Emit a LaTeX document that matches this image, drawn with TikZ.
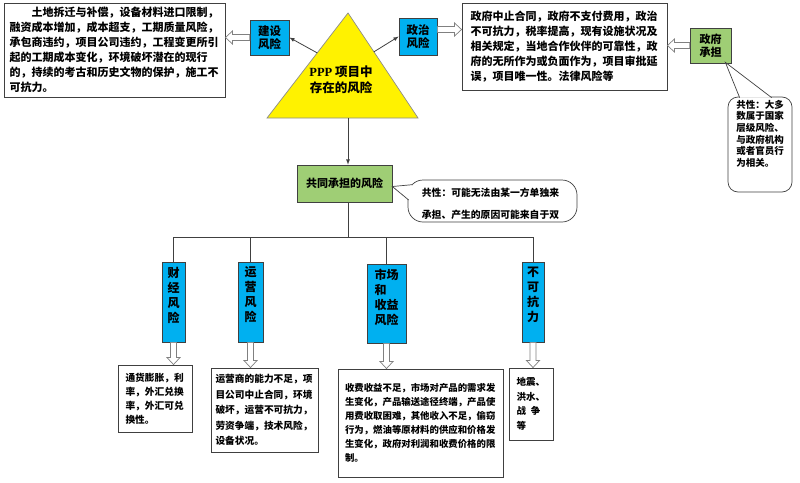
\documentclass[tikz,border=0pt]{standalone}
\usepackage{fontspec}
\setmainfont{Noto Sans CJK SC}
\newfontfamily\pppfont{Liberation Serif}
\usetikzlibrary{calc,positioning}

% hollow block arrow from #1 to #2
\newcommand{\hollowarrow}[2]{%
  \draw [hollowarr] ($#1!3pt!90:#2$) -- ($#2!7pt!#1!3pt!90:#2$) -- ($#2!7pt!#1!6.5pt!90:#2$) -- #2
    -- ($#2!7pt!#1!6.5pt!-90:#2$) -- ($#2!7pt!#1!3pt!-90:#2$) -- ($#1!3pt!-90:#2$) -- cycle;}

\begin{document}
\begin{tikzpicture}[x=1pt,y=-1pt,
  riskbox/.style={draw=boxline,line width=0.7pt,fill=riskblue,inner sep=0pt,align=center,
    font=\bfseries\fontsize{11.5}{13.5}\selectfont},
  sharebox/.style={draw=boxline,line width=0.7pt,fill=sharegreen,inner sep=0pt,align=center,
    font=\bfseries\fontsize{11}{13.5}\selectfont},
  cattext/.style={inner sep=0pt,align=center,font=\bfseries\fontsize{12}{15}\selectfont},
  detail/.style={draw=boxline,line width=0.9pt,fill=white,align=left,inner ysep=0pt},
  bubble/.style={draw=boxline,line width=0.7pt,fill=white,rounded corners=10pt},
  conn/.style={draw=linegray,line width=0.8pt},
  hollowarr/.style={draw=arrowgray,line width=0.7pt,fill=white}]
  \definecolor{riskblue}{HTML}{00B0F0}
  \definecolor{sharegreen}{HTML}{9FCE75}
  \definecolor{boxline}{HTML}{404040}
  \definecolor{linegray}{HTML}{404040}
  \definecolor{arrowgray}{HTML}{808080}
  \definecolor{trigray}{HTML}{8C8C8C}
  \useasboundingbox (0,0) rectangle (800,482);

  % triangle
  \coordinate (apex) at (348,13);
  \coordinate (bl) at (267,118);
  \coordinate (br) at (418,118);
  \draw [fill=yellow,draw=trigray,line width=0.7pt] (apex) -- (br) -- (bl) -- cycle;
  \node [align=center,font=\bfseries\fontsize{12.5}{16}\selectfont] (ppp) at (341,80)
    {{\pppfont PPP}\ 项目中\\存在的风险};
  \coordinate (tl) at ($(apex)!.38!(bl)$);
  \coordinate (tr) at ($(apex)!.37!(br)$);

  % top row
  \node [riskbox,minimum width=39pt,minimum height=35pt] (jianshe) at (269.5,37.5) {建设\\风险};
  \node [riskbox,minimum width=38pt,minimum height=37pt] (zhengzhi) at (418,36.5) {政治\\风险};
  \node [sharebox,minimum width=41pt,minimum height=35pt] (zhengfu) at (710.5,45.5) {政府\\承担};
  \node [detail,minimum width=221pt,minimum height=94pt,text width=210pt,inner xsep=5.5pt,
    font=\bfseries\fontsize{11}{15}\selectfont] (jianshetxt) at (114.5,50)
    {\hspace*{22pt}土地拆迁与补偿，设备材料进口限制，\\
     融资成本增加，成本超支，工期质量风险，\\
     承包商违约，项目公司违约，工程变更所引\\
     起的工期成本变化，环境破坏潜在的现行\\
     的，持续的考古和历史文物的保护，施工不\\
     可抗力。};
  \node [detail,minimum width=205pt,minimum height=87pt,text width=188pt,inner xsep=8.5pt,
    font=\bfseries\fontsize{11}{15}\selectfont] (zhengzhitxt) at (564.5,46.5)
    {政府中止合同，政府不支付费用，政治\\
     不可抗力，税率提高，现有设施状况及\\
     相关规定，当地合作伙伴的可靠性，政\\
     府的无所作为或负面作为，项目审批延\\
     误，项目唯一性。法律风险等};

  \draw [conn,-latex] (tl) -- (jianshe.east);
  \draw [conn,-latex] (tr) -- (zhengzhi.west);
  \coordinate (h1) at (jianshetxt.east |- jianshe.west);
  \hollowarrow{(jianshe.west)}{(h1)}
  \coordinate (h2s) at ([yshift=7pt]zhengzhi.east);
  \coordinate (h2) at (zhengzhitxt.west |- h2s);
  \hollowarrow{(h2s)}{(h2)}
  \coordinate (h3) at (zhengzhitxt.east |- zhengfu.west);
  \hollowarrow{(zhengfu.west)}{(h3)}

  % callout of the government risks
  \node [bubble,minimum width=64pt,minimum height=95pt] (gongxing1) at (760,144.5) {};
  \filldraw [fill=white,draw=boxline,line width=0.7pt]
    ([xshift=12pt,yshift=-1pt]gongxing1.north west) -- ([xshift=-6pt,yshift=1pt]zhengfu.south east)
    -- ([xshift=44pt,yshift=-1pt]gongxing1.north west);
  \node [inner sep=0pt,align=left,font=\bfseries\fontsize{9.5}{11.7}\selectfont,
    below=3pt of gongxing1.north] (gongxing1txt)
    {共性：大多\\数属于国家\\层级风险、\\与政府机构\\或者官员行\\为相关。};

  % shared risks
  \node [sharebox,minimum width=95pt,minimum height=37pt] (gongtong) at (344.5,183.5) {共同承担的风险};
  \draw [conn,-latex] (apex |- bl) -- (apex |- gongtong.north);
  \node [bubble,rounded corners=15pt,minimum width=169pt,minimum height=42pt] (gongxing2) at (492.5,201) {};
  \filldraw [fill=white,draw=boxline,line width=0.7pt]
    ([xshift=5pt,yshift=-5pt]gongxing2.north west) -- ([yshift=-3pt]gongtong.east)
    -- ([xshift=1pt,yshift=1pt]gongxing2.west);
  \node [inner sep=0pt,align=left,font=\bfseries\fontsize{9.8}{22}\selectfont] (gongxing2txt) at (490.5,204)
    {共性：可能无法由某一方单独来\\承担、产生的原因可能来自于双};

  % four kinds
  \node [riskbox,minimum width=23pt,minimum height=80pt] (caijing) at (173.5,302) {};
  \node [cattext,below=5pt of caijing.north] {财\\经\\风\\险};
  \node [riskbox,minimum width=25pt,minimum height=80pt] (yunying) at (250.5,302) {};
  \node [cattext,below=5pt of yunying.north] {运\\营\\风\\险};
  \node [riskbox,minimum width=39pt,minimum height=79pt] (shichang) at (386.5,303.5) {};
  \node [cattext,align=left,below=5pt of shichang.north] {市场\\和\\收益\\风险};
  \node [riskbox,minimum width=22pt,minimum height=80pt] (buke) at (533,302) {};
  \node [cattext,below=5pt of buke.north] {不\\可\\抗\\力};

  \coordinate (bus) at ($(apex |- gongtong.south)+(0,35)$);
  \draw [conn] (apex |- gongtong.south) -- (bus);
  \draw [conn] (caijing.north) |- (bus) -| (buke.north);
  \draw [conn] (yunying.north) -- (yunying.north |- bus);
  \draw [conn] (shichang.north) -- (shichang.north |- bus);

  % details
  \node [detail,minimum width=74pt,minimum height=67pt,text width=59pt,inner xsep=7.5pt,
    font=\bfseries\fontsize{9.7}{14}\selectfont] (caijingtxt) at (155,398.5)
    {通货膨胀，利\\率，外汇兑换\\率，外汇可兑\\换性。};
  \node [detail,minimum width=107pt,minimum height=84pt,text width=98pt,inner xsep=4.5pt,
    font=\bfseries\fontsize{9.7}{15.5}\selectfont] (yunyingtxt) at (264.5,410)
    {运营商的能力不足，项\\目公司中止合同，环境\\破坏，运营不可抗力，\\劳资争端，技术风险，\\设备状况。};
  \node [detail,minimum width=165pt,minimum height=108pt,text width=151pt,inner xsep=7pt,
    font=\bfseries\fontsize{9.4}{14}\selectfont] (shichangtxt) at (420.5,423)
    {收费收益不足，市场对产品的需求发\\
     生变化，产品输送途径终端，产品使\\
     用费收取困难，其他收入不足，偷窃\\
     行为，燃油等原材料的供应和价格发\\
     生变化，政府对利润和收费价格的限\\
     制。};
  \node [detail,minimum width=44pt,minimum height=72pt,text width=29pt,inner xsep=7.5pt,
    font=\bfseries\fontsize{9.5}{14.7}\selectfont] (buketxt) at (531,404)
    {地震、\\洪水、\\战\hspace{0.5em}争\\等};

  \coordinate (h4) at (caijing.south |- caijingtxt.north);
  \hollowarrow{(caijing.south)}{(h4)}
  \coordinate (h5) at (yunying.south |- yunyingtxt.north);
  \hollowarrow{(yunying.south)}{(h5)}
  \coordinate (h6) at (shichang.south |- shichangtxt.north);
  \hollowarrow{(shichang.south)}{(h6)}
  \coordinate (h7) at (buke.south |- buketxt.north);
  \hollowarrow{(buke.south)}{(h7)}
\end{tikzpicture}
\end{document}
